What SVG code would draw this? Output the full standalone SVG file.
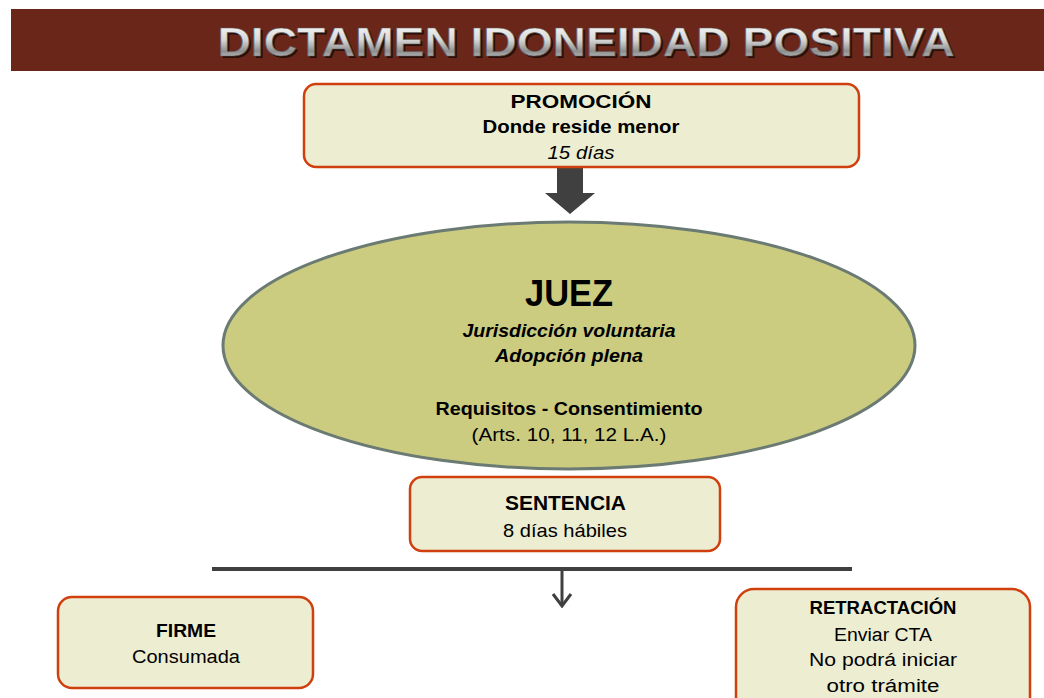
<svg xmlns="http://www.w3.org/2000/svg" width="1044" height="698" viewBox="0 0 1044 698">
<defs>
<linearGradient id="silver" x1="0" y1="0" x2="0" y2="1">
<stop offset="0" stop-color="#ffffff"/>
<stop offset="0.45" stop-color="#d8d8d8"/>
<stop offset="0.7" stop-color="#8e8e8e"/>
<stop offset="1" stop-color="#e8e8e8"/>
</linearGradient>
<marker id="open" viewBox="0 0 16 22" refX="14" refY="11" markerWidth="16" markerHeight="22" markerUnits="userSpaceOnUse" orient="auto">
<path d="M2,2 L14,11 L2,20" fill="none" stroke="#404040" stroke-width="3"/>
</marker>
<style>
.box{fill:#EDEDD2;stroke:#D0400F;stroke-width:2.5}
.t{font-family:"Liberation Sans",Arial,sans-serif;fill:#000;text-anchor:middle;font-size:18px}
.b{font-weight:bold}
.i{font-style:italic}
.s19{font-size:19px}
.s20{font-size:20px}
.s37{font-size:37px}
.conn{stroke:#404040;fill:none}
</style>
</defs>
<rect width="1044" height="698" fill="#ffffff"/>
<g id="title">
<rect x="11" y="9" width="1033" height="62" fill="#6B261A"/>
<text x="588" y="58" font-family="Liberation Sans,Arial,sans-serif" font-weight="bold" font-size="41" text-anchor="middle" textLength="737" lengthAdjust="spacingAndGlyphs" fill="#2a0e08">DICTAMEN IDONEIDAD POSITIVA</text>
<text x="586" y="56" font-family="Liberation Sans,Arial,sans-serif" font-weight="bold" font-size="41" text-anchor="middle" textLength="737" lengthAdjust="spacingAndGlyphs" fill="url(#silver)" stroke="#5a5a5a" stroke-width="0.6">DICTAMEN IDONEIDAD POSITIVA</text>
</g>
<g id="connectors">
<polygon points="557,168 583,168 583,193 595,193 570,214 545,193 557,193" fill="#404040"/>
<line class="conn" x1="212" y1="569" x2="852" y2="569" stroke-width="4"/>
<line class="conn" x1="562" y1="571" x2="562" y2="606" stroke-width="3" marker-end="url(#open)"/>
</g>
<g id="promocion">
<rect class="box" x="304" y="84" width="555" height="83" rx="12"/>
<text class="t b s19" x="581" y="108" textLength="141" lengthAdjust="spacingAndGlyphs">PROMOCIÓN</text>
<text class="t b s19" x="581" y="133" textLength="197" lengthAdjust="spacingAndGlyphs">Donde reside menor</text>
<text class="t i s19" x="581" y="159" textLength="67" lengthAdjust="spacingAndGlyphs">15 días</text>
</g>
<g id="juez">
<ellipse cx="569" cy="345.5" rx="346" ry="123.5" fill="#CBCC80" stroke="#6B7B73" stroke-width="3"/>
<text class="t b s37" x="569" y="306" textLength="88" lengthAdjust="spacingAndGlyphs">JUEZ</text>
<text class="t b i" x="569" y="337" textLength="213" lengthAdjust="spacingAndGlyphs">Jurisdicción voluntaria</text>
<text class="t b i" x="569" y="362" textLength="148" lengthAdjust="spacingAndGlyphs">Adopción plena</text>
<text class="t b" x="569" y="415" textLength="267" lengthAdjust="spacingAndGlyphs">Requisitos - Consentimiento</text>
<text class="t" x="569" y="441" textLength="195" lengthAdjust="spacingAndGlyphs">(Arts. 10, 11, 12 L.A.)</text>
</g>
<g id="sentencia">
<rect class="box" x="410" y="477" width="310" height="74" rx="12"/>
<text class="t b s20" x="565.5" y="510" textLength="121" lengthAdjust="spacingAndGlyphs">SENTENCIA</text>
<text class="t s19" x="565" y="537" textLength="124" lengthAdjust="spacingAndGlyphs">8 días hábiles</text>
</g>
<g id="firme">
<rect class="box" x="58" y="597" width="255" height="91" rx="14"/>
<text class="t b" x="186" y="637" textLength="60" lengthAdjust="spacingAndGlyphs">FIRME</text>
<text class="t" x="186" y="663" textLength="108" lengthAdjust="spacingAndGlyphs">Consumada</text>
</g>
<g id="retractacion">
<rect class="box" x="736" y="589" width="294" height="130" rx="18"/>
<text class="t b" x="883" y="614" textLength="147" lengthAdjust="spacingAndGlyphs">RETRACTACIÓN</text>
<text class="t" x="883" y="641" textLength="98" lengthAdjust="spacingAndGlyphs">Enviar CTA</text>
<text class="t" x="883" y="666" textLength="148" lengthAdjust="spacingAndGlyphs">No podrá iniciar</text>
<text class="t" x="883" y="692" textLength="113" lengthAdjust="spacingAndGlyphs">otro trámite</text>
</g>
</svg>
